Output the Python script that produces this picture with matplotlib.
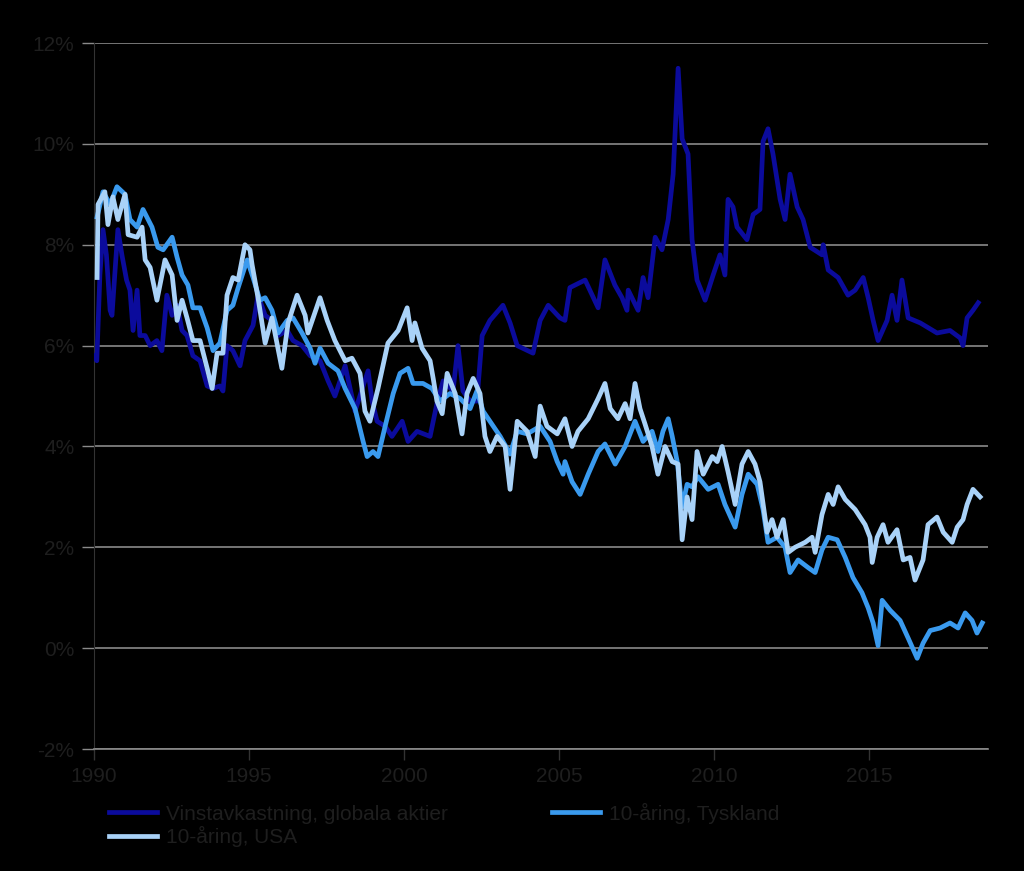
import numpy as np
import matplotlib
matplotlib.use("Agg")
from matplotlib import pyplot as plt
from matplotlib.ticker import FuncFormatter

# Vinstavkastning, globala aktier
eq_years = [1990.03, 1990.09, 1990.19, 1990.29, 1990.40, 1990.52, 1990.58, 1990.68, 1990.77, 1990.90,
            1991.05, 1991.16, 1991.26, 1991.39, 1991.48, 1991.65, 1991.81, 1992.03, 1992.19, 1992.35,
            1992.52, 1992.68, 1992.84, 1993.00, 1993.19, 1993.42, 1993.65, 1993.84, 1994.06, 1994.16,
            1994.29, 1994.48, 1994.71, 1994.87, 1995.13, 1995.29, 1995.52, 1995.74, 1995.94, 1996.23,
            1996.42, 1996.71, 1996.97, 1997.29, 1997.55, 1997.77, 1998.10, 1998.42, 1998.68, 1998.84,
            1998.97, 1999.13, 1999.39, 1999.61, 1999.94, 2000.13, 2000.42, 2000.84, 2000.94, 2001.06,
            2001.26, 2001.58, 2001.74, 2001.90, 2002.13, 2002.35, 2002.52, 2002.77, 2003.19, 2003.42,
            2003.65, 2004.16, 2004.39, 2004.65, 2005.03, 2005.19, 2005.35, 2005.84, 2006.26, 2006.48,
            2006.80, 2007.03, 2007.19, 2007.23, 2007.55, 2007.71, 2007.87, 2008.10, 2008.32, 2008.52,
            2008.68, 2008.84, 2008.97, 2009.16, 2009.29, 2009.45, 2009.71, 2009.97, 2010.19, 2010.35,
            2010.45, 2010.61, 2010.74, 2011.06, 2011.26, 2011.48, 2011.58, 2011.74, 2011.90, 2012.13,
            2012.29, 2012.45, 2012.68, 2012.87, 2013.10, 2013.48, 2013.52, 2013.68, 2014.00, 2014.32,
            2014.55, 2014.81, 2014.97, 2015.13, 2015.29, 2015.58, 2015.74, 2015.90, 2016.06, 2016.26,
            2016.65, 2017.19, 2017.61, 2017.94, 2018.03, 2018.16, 2018.35, 2018.52]
eq_yield = [5.8, 5.7, 7.4, 8.3, 7.8, 6.7, 6.6, 7.5, 8.3, 7.8,
            7.3, 7.1, 6.3, 7.1, 6.2, 6.2, 6.0, 6.1, 5.9, 7.0,
            6.6, 6.8, 6.3, 6.2, 5.8, 5.7, 5.2, 5.15, 5.2, 5.1,
            6.0, 5.9, 5.6, 6.1, 6.4, 7.0, 6.6, 6.5, 6.2, 6.3,
            6.1, 6.0, 5.8, 5.7, 5.3, 5.0, 5.6, 4.7, 5.2, 5.5,
            4.9, 4.5, 4.4, 4.2, 4.5, 4.1, 4.3, 4.2, 4.5, 4.85,
            5.3, 5.1, 6.0, 5.1, 4.9, 4.9, 6.2, 6.5, 6.8, 6.45,
            6.0, 5.85, 6.5, 6.8, 6.55, 6.5, 7.15, 7.3, 6.75, 7.7,
            7.2, 6.95, 6.7, 7.1, 6.7, 7.35, 6.95, 8.15, 7.9, 8.5,
            9.4, 11.5, 10.1, 9.8, 8.1, 7.3, 6.9, 7.4, 7.8, 7.4,
            8.9, 8.75, 8.35, 8.1, 8.6, 8.7, 10.05, 10.3, 9.8, 8.9,
            8.5, 9.4, 8.75, 8.5, 7.95, 7.8, 8.0, 7.5, 7.35, 7.0,
            7.1, 7.35, 6.95, 6.5, 6.1, 6.5, 7.0, 6.5, 7.3, 6.55,
            6.45, 6.25, 6.3, 6.15, 6.0, 6.55, 6.7, 6.85]

# 10-aring, USA
us_years = [1990.10, 1990.13, 1990.35, 1990.45, 1990.61, 1990.77, 1991.00, 1991.10, 1991.39, 1991.55,
            1991.65, 1991.81, 1992.03, 1992.29, 1992.52, 1992.68, 1992.84, 1993.00, 1993.19, 1993.42,
            1993.65, 1993.81, 1993.97, 1994.16, 1994.29, 1994.48, 1994.65, 1994.87, 1995.03, 1995.10,
            1995.29, 1995.52, 1995.74, 1996.06, 1996.26, 1996.55, 1996.81, 1996.90, 1997.29, 1997.52,
            1997.77, 1998.10, 1998.32, 1998.58, 1998.74, 1998.90, 1999.16, 1999.48, 1999.81, 2000.10,
            2000.26, 2000.35, 2000.58, 2000.84, 2000.94, 2001.06, 2001.23, 2001.39, 2001.65, 2001.87,
            2002.03, 2002.23, 2002.45, 2002.61, 2002.77, 2003.00, 2003.26, 2003.42, 2003.65, 2003.97,
            2004.23, 2004.39, 2004.61, 2004.94, 2005.19, 2005.42, 2005.61, 2005.94, 2006.26, 2006.48,
            2006.65, 2006.90, 2007.13, 2007.29, 2007.45, 2007.61, 2007.77, 2008.00, 2008.19, 2008.42,
            2008.65, 2008.84, 2008.97, 2009.13, 2009.29, 2009.45, 2009.65, 2009.94, 2010.10, 2010.26,
            2010.45, 2010.68, 2010.90, 2011.10, 2011.32, 2011.48, 2011.71, 2011.87, 2012.03, 2012.23,
            2012.39, 2012.61, 2012.94, 2013.16, 2013.26, 2013.48, 2013.68, 2013.84, 2014.00, 2014.23,
            2014.55, 2014.87, 2015.03, 2015.10, 2015.26, 2015.45, 2015.61, 2015.90, 2016.10, 2016.32,
            2016.48, 2016.74, 2016.90, 2017.19, 2017.39, 2017.68, 2017.84, 2018.03, 2018.16, 2018.35,
            2018.58]
us_yield = [7.35, 8.8, 9.05, 8.4, 8.95, 8.5, 9.0, 8.2, 8.15, 8.35,
            7.7, 7.55, 6.9, 7.7, 7.4, 6.5, 6.9, 6.55, 6.1, 6.1,
            5.55, 5.15, 5.85, 5.85, 7.0, 7.35, 7.3, 8.0, 7.9, 7.6,
            6.95, 6.05, 6.55, 5.55, 6.45, 7.0, 6.6, 6.25, 6.95, 6.5,
            6.1, 5.7, 5.75, 5.45, 4.7, 4.5, 5.15, 6.05, 6.3, 6.75,
            6.1, 6.45, 5.95, 5.7, 5.35, 4.9, 4.65, 5.45, 5.05, 4.25,
            5.05, 5.35, 5.05, 4.2, 3.9, 4.2, 4.0, 3.15, 4.5, 4.3,
            3.8, 4.8, 4.4, 4.25, 4.55, 4.0, 4.3, 4.55, 4.95, 5.25,
            4.75, 4.55, 4.85, 4.55, 5.25, 4.75, 4.45, 4.0, 3.45, 4.0,
            3.7, 3.65, 2.15, 3.0, 2.55, 3.9, 3.45, 3.8, 3.7, 4.0,
            3.5, 2.85, 3.65, 3.9, 3.65, 3.3, 2.3, 2.55, 2.2, 2.55,
            1.9, 2.0, 2.1, 2.2, 1.9, 2.65, 3.05, 2.85, 3.2, 2.95,
            2.75, 2.45, 2.2, 1.7, 2.2, 2.45, 2.1, 2.35, 1.75, 1.8,
            1.35, 1.75, 2.45, 2.6, 2.3, 2.1, 2.4, 2.55, 2.85, 3.15,
            3.0]

# 10-aring, Tyskland
de_years = [1990.10, 1990.29, 1990.52, 1990.74, 1991.00, 1991.16, 1991.39, 1991.58, 1991.87, 1992.06,
            1992.23, 1992.52, 1992.68, 1992.84, 1993.03, 1993.19, 1993.42, 1993.65, 1993.84, 1994.06,
            1994.29, 1994.48, 1994.65, 1994.94, 1995.13, 1995.35, 1995.52, 1995.74, 1995.94, 1996.23,
            1996.42, 1996.71, 1996.97, 1997.13, 1997.29, 1997.55, 1997.87, 1998.10, 1998.42, 1998.68,
            1998.81, 1999.00, 1999.16, 1999.39, 1999.65, 1999.87, 2000.13, 2000.29, 2000.61, 2000.90,
            2001.16, 2001.48, 2001.81, 2002.13, 2002.35, 2002.55, 2002.77, 2003.10, 2003.42, 2003.65,
            2003.97, 2004.39, 2004.71, 2004.94, 2005.13, 2005.19, 2005.42, 2005.68, 2005.94, 2006.26,
            2006.48, 2006.81, 2007.13, 2007.45, 2007.71, 2008.00, 2008.19, 2008.35, 2008.52, 2008.65,
            2008.81, 2008.97, 2009.13, 2009.29, 2009.48, 2009.81, 2010.13, 2010.35, 2010.68, 2010.90,
            2011.10, 2011.39, 2011.58, 2011.74, 2012.03, 2012.29, 2012.45, 2012.71, 2013.03, 2013.26,
            2013.48, 2013.68, 2013.97, 2014.23, 2014.48, 2014.77, 2014.97, 2015.13, 2015.29, 2015.42,
            2015.68, 2016.00, 2016.26, 2016.55, 2016.74, 2016.97, 2017.29, 2017.61, 2017.87, 2018.10,
            2018.32, 2018.48, 2018.65]
de_yield = [8.55, 9.05, 8.8, 9.15, 9.0, 8.5, 8.35, 8.7, 8.35, 7.95,
            7.9, 8.15, 7.75, 7.4, 7.2, 6.75, 6.75, 6.35, 5.9, 6.05,
            6.7, 6.8, 7.15, 7.7, 7.35, 6.9, 6.95, 6.7, 6.25, 6.5,
            6.55, 6.25, 5.95, 5.65, 5.95, 5.65, 5.5, 5.15, 4.75, 4.1,
            3.8, 3.9, 3.8, 4.4, 5.05, 5.45, 5.55, 5.25, 5.25, 5.15,
            4.9, 5.05, 4.95, 4.75, 5.1, 4.7, 4.5, 4.2, 3.85, 4.3,
            4.25, 4.4, 4.1, 3.7, 3.45, 3.7, 3.3, 3.05, 3.45, 3.9,
            4.05, 3.65, 4.0, 4.5, 4.1, 4.3, 3.9, 4.3, 4.55, 4.2,
            3.7, 2.8, 3.25, 3.2, 3.4, 3.15, 3.25, 2.85, 2.4, 3.05,
            3.45, 3.25, 2.75, 2.1, 2.2, 2.0, 1.5, 1.75, 1.6, 1.5,
            1.95, 2.2, 2.15, 1.8, 1.4, 1.1, 0.8, 0.5, 0.05, 0.95,
            0.75, 0.55, 0.2, -0.2, 0.1, 0.35, 0.4, 0.5, 0.4, 0.7,
            0.55, 0.3, 0.5]

y_ticks = [-2, 0, 2, 4, 6, 8, 10, 12]
x_ticks = [1990, 1995, 2000, 2005, 2010, 2015]

TEXT = "#1e1e1e"
GRID = "#8a8a8a"


def draw_chart():
    plt.rcParams['font.family'] = ['Liberation Sans', 'DejaVu Sans']
    fig = plt.figure(figsize=(10.24, 8.71), dpi=100, facecolor="black")
    ax = fig.add_axes([0.0918, 0.140, 0.8732, 0.8106])
    ax.set_facecolor("black")

    ax.set_xlim(1990, 2018.84)
    ax.set_ylim(-2, 12)
    ax.set_yticks(y_ticks)
    ax.set_xticks(x_ticks)
    ax.yaxis.set_major_formatter(FuncFormatter(lambda v, p: f"{int(v)}%"))
    ax.grid(axis="y", color=GRID, linewidth=1.2)
    ax.set_axisbelow(True)

    for side in ("top", "right"):
        ax.spines[side].set_visible(False)
    ax.spines["left"].set_color("#333333")
    ax.spines["bottom"].set_color(GRID)
    ax.spines["bottom"].set_linewidth(1.2)

    ax.tick_params(axis="y", colors=GRID, labelcolor=TEXT, labelsize=15,
                   length=9, width=1.0, pad=5)
    ax.tick_params(axis="x", colors="#333333", labelcolor=TEXT, labelsize=15,
                   length=8, width=1.0, pad=5)

    l_eq, = ax.plot(eq_years, eq_yield, color="#0b0b9c", linewidth=3.4,
                    label="Vinstavkastning, globala aktier", zorder=3)
    l_de, = ax.plot(de_years, de_yield, color="#3a9aee", linewidth=3.4,
                    label="10-åring, Tyskland", zorder=4)
    l_us, = ax.plot(us_years, us_yield, color="#a9d2f8", linewidth=3.4,
                    label="10-åring, USA", zorder=5)

    leg = fig.legend([l_eq, l_us, l_de],
                     [l_eq.get_label(), l_us.get_label(), l_de.get_label()],
                     ncol=2, loc="upper left", bbox_to_anchor=(0.098, 0.088),
                     frameon=False, fontsize=15, handlelength=2.3,
                     handletextpad=0.45, columnspacing=5.0, labelspacing=0.12,
                     borderaxespad=0)
    for t in leg.get_texts():
        t.set_color(TEXT)

    fig.savefig("out.png", dpi=100, facecolor="black")


def main():
    draw_chart()


if __name__ == "__main__":
    main()
